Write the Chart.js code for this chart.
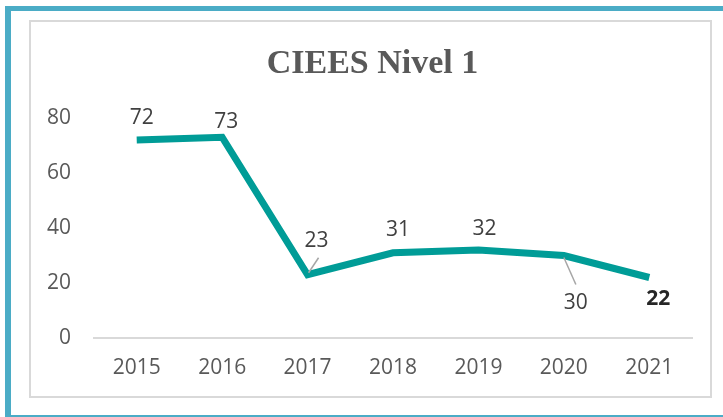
<!DOCTYPE html>
<html>
<head>
<meta charset="utf-8">
<script src="https://cdn.jsdelivr.net/npm/chart.js@4.4.1/dist/chart.umd.min.js"></script>
<style>
  html, body { margin: 0; padding: 0; background: #fff; }
  #wrap { position: relative; width: 723px; height: 417px; overflow: hidden; background: #fff; }
  .blue { position: absolute; background: #4BACC6; }
  #box { position: absolute; left: 29px; top: 20px; width: 683px; height: 378px; border: 2px solid #D9D9D9; box-sizing: border-box; }
  canvas { position: absolute; left: 0; top: 0; }
</style>
</head>
<body>
<div id="wrap">
  <div class="blue" style="left:5px;top:6px;width:6px;height:411px"></div>
  <div class="blue" style="left:5px;top:6px;width:718px;height:5px"></div>
  <div class="blue" style="left:5px;top:415px;width:718px;height:2px"></div>
  <div id="box"></div>
  <canvas id="chart" width="723" height="417"></canvas>
</div>
<script>
const years = ['2015', '2016', '2017', '2018', '2019', '2020', '2021'];
const nivel1 = [72, 73, 23, 31, 32, 30, 22];
const yTicks = [0, 20, 40, 60, 80];

// label placement relative to each point (some labels were dragged around in the original)
const labelShift = [[5, -22], [4, -15], [9, -34], [5, -23], [6, -21], [12, 48], [9, 22]];
// leader lines as [x1, y1, x2, y2] offsets from the point, null = none
const leaderLines = [null, null, [1, -2, 11, -17], null, null, [0, 2, 12, 29], null];
const boldLabel = [false, false, false, false, false, false, true];

const valueLabels = {
  id: 'valueLabels',
  afterDatasetsDraw(chart) {
    const ctx = chart.ctx;
    const pts = chart.getDatasetMeta(0).data;
    ctx.save();
    pts.forEach((p, i) => {
      const lead = leaderLines[i];
      if (lead) {
        ctx.strokeStyle = '#A6A6A6';
        ctx.lineWidth = 1.5;
        ctx.beginPath();
        ctx.moveTo(p.x + lead[0], p.y + lead[1]);
        ctx.lineTo(p.x + lead[2], p.y + lead[3]);
        ctx.stroke();
      }
      ctx.font = (boldLabel[i] ? 'bold ' : '') + '21px "Open Sans"';
      ctx.fillStyle = boldLabel[i] ? '#262626' : '#404040';
      ctx.textAlign = 'center';
      ctx.textBaseline = 'middle';
      ctx.fillText(String(nivel1[i]), p.x + labelShift[i][0], p.y + labelShift[i][1]);
    });
    ctx.restore();
  }
};

const tickFont = { family: 'Open Sans', size: 21 };

new Chart(document.getElementById('chart'), {
  type: 'line',
  data: {
    labels: years,
    datasets: [{
      data: nivel1,
      borderColor: '#009C97',
      borderWidth: 7,
      pointRadius: 0,
      pointHoverRadius: 0,
      tension: 0,
      borderJoinStyle: 'miter',
      borderCapStyle: 'butt',
      fill: false
    }]
  },
  options: {
    responsive: false,
    animation: false,
    events: [],
    layout: { padding: { left: 22, right: 0, top: 0, bottom: 0 } },
    plugins: {
      legend: { display: false },
      tooltip: { enabled: false },
      title: {
        display: true,
        text: 'CIEES Nivel 1',
        color: '#595959',
        font: { family: 'Liberation Serif', size: 34, weight: 'bold', lineHeight: 1.2 },
        padding: { top: 44, bottom: 33.2 }
      }
    },
    scales: {
      x: {
        offset: true,
        grid: { display: false, drawTicks: false },
        border: { display: true, color: '#D9D9D9', width: 2 },
        ticks: { color: '#595959', font: tickFont, padding: 17, maxRotation: 0, autoSkip: false },
        afterFit: s => { s.height = 79; }
      },
      y: {
        min: 0,
        max: 80,
        grid: { display: false, drawTicks: false },
        border: { display: false },
        ticks: { color: '#595959', font: tickFont, padding: 23 },
        afterBuildTicks: s => { s.ticks = yTicks.map(v => ({ value: v })); },
        afterFit: s => { s.width = 72; }
      },
      // empty right-hand axis, only reserves the margin right of the plot
      spacer: {
        type: 'linear',
        position: 'right',
        grid: { display: false, drawTicks: false },
        border: { display: false },
        ticks: { display: false },
        afterFit: s => { s.width = 31; }
      }
    }
  },
  plugins: [valueLabels]
});
</script>
</body>
</html>
